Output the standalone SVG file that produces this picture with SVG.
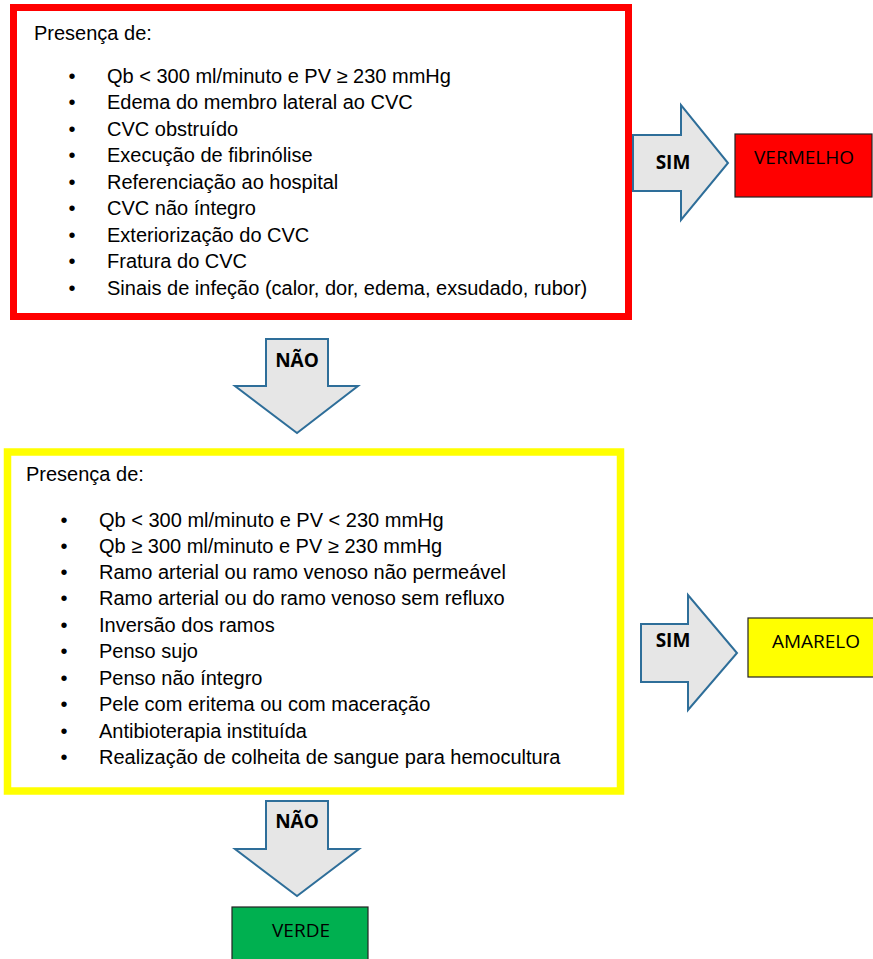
<svg xmlns="http://www.w3.org/2000/svg" width="873" height="959" viewBox="0 0 873 959">
<style>
.t{font-family:"Liberation Sans",Arial,sans-serif;font-size:20px;fill:#000}
.b{font-family:"Open Sans","Liberation Sans",sans-serif;font-size:19px;font-weight:bold;fill:#000;text-anchor:middle}
.l{font-family:"Open Sans","Liberation Sans",sans-serif;font-size:19px;fill:#000;text-anchor:middle}
.arr{fill:#e6e6e6;stroke:#2e6e99;stroke-width:2;stroke-linejoin:miter}
.res{stroke:#222;stroke-width:1.2}
</style>
<rect width="873" height="959" fill="#fff"/>
<g id="red-box">
<rect x="13.5" y="7.5" width="615" height="309" fill="#fff" stroke="#ff0000" stroke-width="7"/>
<text class="t" x="34" y="40">Presença de:</text>
<g class="t">
<text x="68.5" y="83">•</text><text x="107" y="83">Qb &lt; 300 ml/minuto e PV ≥ 230 mmHg</text>
<text x="68.5" y="109">•</text><text x="107" y="109">Edema do membro lateral ao CVC</text>
<text x="68.5" y="136">•</text><text x="107" y="136">CVC obstruído</text>
<text x="68.5" y="162">•</text><text x="107" y="162">Execução de fibrinólise</text>
<text x="68.5" y="189">•</text><text x="107" y="189">Referenciação ao hospital</text>
<text x="68.5" y="215">•</text><text x="107" y="215">CVC não íntegro</text>
<text x="68.5" y="242">•</text><text x="107" y="242">Exteriorização do CVC</text>
<text x="68.5" y="268">•</text><text x="107" y="268">Fratura do CVC</text>
<text x="68.5" y="295">•</text><text x="107" y="295">Sinais de infeção (calor, dor, edema, exsudado, rubor)</text>
</g>
</g>
<g id="yellow-box">
<rect x="7.5" y="452" width="613" height="339" fill="#fff" stroke="#ffff00" stroke-width="7.5"/>
<text class="t" x="26" y="481">Presença de:</text>
<g class="t">
<text x="60.5" y="527">•</text><text x="99" y="527">Qb &lt; 300 ml/minuto e PV &lt; 230 mmHg</text>
<text x="60.5" y="553">•</text><text x="99" y="553">Qb ≥ 300 ml/minuto e PV ≥ 230 mmHg</text>
<text x="60.5" y="579">•</text><text x="99" y="579">Ramo arterial ou ramo venoso não permeável</text>
<text x="60.5" y="605">•</text><text x="99" y="605">Ramo arterial ou do ramo venoso sem refluxo</text>
<text x="60.5" y="632">•</text><text x="99" y="632">Inversão dos ramos</text>
<text x="60.5" y="658">•</text><text x="99" y="658">Penso sujo</text>
<text x="60.5" y="685">•</text><text x="99" y="685">Penso não íntegro</text>
<text x="60.5" y="711">•</text><text x="99" y="711">Pele com eritema ou com maceração</text>
<text x="60.5" y="738">•</text><text x="99" y="738">Antibioterapia instituída</text>
<text x="60.5" y="764">•</text><text x="99" y="764">Realização de colheita de sangue para hemocultura</text>
</g>
</g>
<g id="connectors">
<g id="sim1">
<polygon class="arr" points="633,135 681,135 681,105 728,163 681,220 681,191 633,191"/>
<text class="b" x="673" y="169">SIM</text>
</g>
<g id="nao1">
<polygon class="arr" points="266,339 328,339 328,386 358,386 297,433 235,386 266,386"/>
<text class="b" x="297" y="367">NÃO</text>
</g>
<g id="sim2">
<polygon class="arr" points="641,624 688,624 688,595 737,653 688,710 688,682 641,682"/>
<text class="b" x="673" y="647">SIM</text>
</g>
<g id="nao2">
<polygon class="arr" points="266,801 328,801 328,849 359,849 297,896 235,849 266,849"/>
<text class="b" x="297" y="828">NÃO</text>
</g>
</g>
<g id="vermelho">
<rect class="res" x="735" y="134" width="137" height="63" fill="#ff0000"/>
<text class="l" x="804" y="164">VERMELHO</text>
</g>
<g id="amarelo">
<rect class="res" x="748" y="618" width="126" height="59" fill="#ffff00"/>
<text class="l" x="816" y="648">AMARELO</text>
</g>
<g id="verde">
<rect class="res" x="232" y="907" width="136" height="54" fill="#00b050"/>
<text class="l" x="301" y="937">VERDE</text>
</g>
</svg>
